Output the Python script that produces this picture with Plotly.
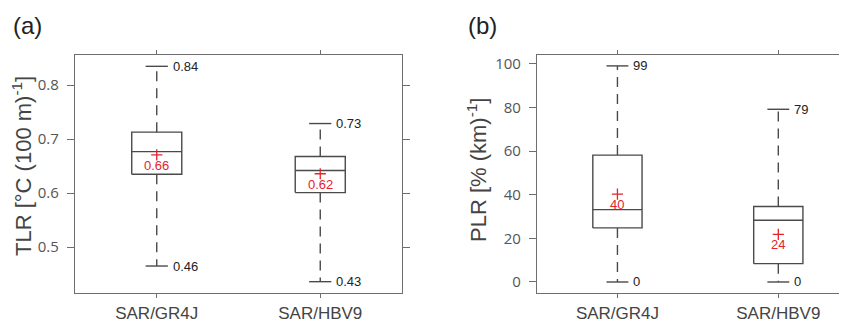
import plotly.graph_objects as go

categories = ["SAR/GR4J", "SAR/HBV9"]

# Panel (a): TLR
tlr_low = [0.465, 0.436]
tlr_q1 = [0.635, 0.601]
tlr_med = [0.677, 0.642]
tlr_q3 = [0.713, 0.668]
tlr_high = [0.835, 0.729]
tlr_mean = [0.671, 0.636]
tlr_mean_lbl = ["0.66", "0.62"]
tlr_low_lbl = ["0.46", "0.43"]
tlr_high_lbl = ["0.84", "0.73"]

# Panel (b): PLR
plr_low = [0, 0]
plr_q1 = [24.8, 8.4]
plr_med = [33.2, 28.3]
plr_q3 = [58.2, 34.6]
plr_high = [99.1, 79.2]
plr_mean = [40.3, 21.8]
plr_mean_lbl = ["40", "24"]
plr_low_lbl = ["0", "0"]
plr_high_lbl = ["99", "79"]

W, H = 839, 313  # page body has an 8px default margin
MT, MB = 47, 28
PH = H - MT - MB
BOX_HALF = 0.153
CAP_HALF = 0.068
LINE_C = "#4a4a4a"
AX_C = "#6e6e6e"
RED = "#e3242b"
FONT = "Liberation Sans, Arial, sans-serif"

fig = go.Figure()
annotations = []


def py(fy):
    """figure pixel y (from top) -> paper y"""
    return (H - MB - fy) / PH


def add_panel(xa, ya, low, q1, med, q3, high, mean, mlbl, llbl, hlbl):
    xref = "x" if xa == 1 else "x2"
    yref = "y" if ya == 1 else "y2"
    for i, c in enumerate(range(1, len(categories) + 1)):
        fig.add_trace(go.Scatter(
            x=[c - BOX_HALF, c + BOX_HALF, c + BOX_HALF, c - BOX_HALF, c - BOX_HALF],
            y=[q1[i], q1[i], q3[i], q3[i], q1[i]],
            mode="lines", line=dict(color=LINE_C, width=1.4),
            xaxis=xref, yaxis=yref, showlegend=False, hoverinfo="skip"))
        fig.add_trace(go.Scatter(
            x=[c - BOX_HALF, c + BOX_HALF], y=[med[i], med[i]],
            mode="lines", line=dict(color=LINE_C, width=1.4),
            xaxis=xref, yaxis=yref, showlegend=False, hoverinfo="skip"))
        for a, b in ((q3[i], high[i]), (q1[i], low[i])):
            fig.add_trace(go.Scatter(
                x=[c, c], y=[a, b], mode="lines",
                line=dict(color=LINE_C, width=1.4, dash="10px,7px"),
                xaxis=xref, yaxis=yref, showlegend=False, hoverinfo="skip"))
        for v in (high[i], low[i]):
            fig.add_trace(go.Scatter(
                x=[c - CAP_HALF, c + CAP_HALF], y=[v, v], mode="lines",
                line=dict(color=LINE_C, width=1.4),
                xaxis=xref, yaxis=yref, showlegend=False, hoverinfo="skip"))
        for v, t in ((high[i], hlbl[i]), (low[i], llbl[i])):
            annotations.append(dict(
                x=c + CAP_HALF, y=v, xref=xref, yref=yref, text=t,
                showarrow=False, xanchor="left", yanchor="middle", xshift=3,
                font=dict(family=FONT, size=13, color="#222222")))
        annotations.append(dict(
            x=c, y=mean[i], xref=xref, yref=yref, text=mlbl[i],
            showarrow=False, xanchor="center", yanchor="top", yshift=-1,
            font=dict(family=FONT, size=13, color=RED)))
    fig.add_trace(go.Scatter(
        x=list(range(1, len(categories) + 1)), y=mean, mode="markers",
        marker=dict(symbol="cross-thin", size=8, line=dict(color=RED, width=1.3)),
        xaxis=xref, yaxis=yref, showlegend=False, hoverinfo="skip"))


add_panel(1, 1, tlr_low, tlr_q1, tlr_med, tlr_q3, tlr_high, tlr_mean,
          tlr_mean_lbl, tlr_low_lbl, tlr_high_lbl)
add_panel(2, 2, plr_low, plr_q1, plr_med, plr_q3, plr_high, plr_mean,
          plr_mean_lbl, plr_low_lbl, plr_high_lbl)

# panel letters
for txt, fx in (("(a)", 3), ("(b)", 458)):
    annotations.append(dict(x=fx / W, y=py(17), xref="paper", yref="paper",
                            text=txt, showarrow=False, xanchor="left", yanchor="middle",
                            font=dict(family=FONT, size=24, color="#222222")))
# axis titles
for txt, fx, fy in (("TLR [°C (100 m)<sup>-1</sup>]", 14, 158),
                    ("PLR [% (km)<sup>-1</sup>]", 469, 162)):
    annotations.append(dict(x=fx / W, y=py(fy), xref="paper", yref="paper",
                            text=txt, showarrow=False, textangle=-90,
                            xanchor="center", yanchor="middle",
                            font=dict(family=FONT, size=22, color="#444444")))

xcommon = dict(tickmode="array", tickvals=[1, 2], ticktext=categories,
               showline=True, linecolor=AX_C, linewidth=1.2, mirror="ticks",
               ticks="outside", ticklen=4, tickcolor=AX_C, showgrid=False,
               zeroline=False, ticklabelstandoff=0, automargin=False,
               tickfont=dict(family=FONT, size=17, color="#444444"))
ycommon = dict(showline=True, linecolor=AX_C, linewidth=1.2,
               ticks="outside", ticklen=7, tickcolor=AX_C, showgrid=False,
               zeroline=False, ticklabelstandoff=5, automargin=False,
               tickfont=dict(family="Open Sans, sans-serif", size=15, color="#555555"))

fig.update_layout(
    width=W, height=H,
    margin=dict(l=0, r=0, t=MT, b=MB),
    paper_bgcolor="white", plot_bgcolor="white",
    xaxis=dict(domain=[67 / W, 394 / W], range=[0.5, 2.5], **xcommon),
    xaxis2=dict(domain=[529 / W, 1.0], range=[0.5, 2.427], anchor="y2", **xcommon),
    yaxis=dict(domain=[0, 1], range=[0.415, 0.856], tickvals=[0.5, 0.6, 0.7, 0.8],
               mirror="ticks", **ycommon),
    yaxis2=dict(domain=[0, 1], range=[-5.05, 104.1], tickvals=[0, 20, 40, 60, 80, 100],
                anchor="x2", mirror=False, **ycommon),
    annotations=annotations,
)

fig.write_html("out.html")
